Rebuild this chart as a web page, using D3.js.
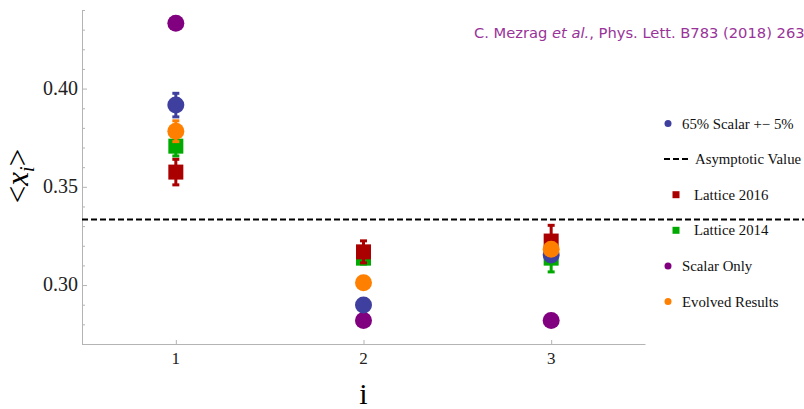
<!DOCTYPE html>
<html>
<head>
<meta charset="utf-8">
<script src="https://cdn.jsdelivr.net/npm/d3@7/dist/d3.min.js"></script>
<style>
body{margin:0;background:#fff;}
svg{display:block;}
.serif{font-family:"Liberation Serif","Times New Roman",serif;}
</style>
</head>
<body>
<div id="main"></div>
<script>
// data
var moments = [1, 2, 3];
var scalarOnly = [0.4333, 0.2820, 0.2820];
var scalar65 = [0.3916, 0.2898, 0.3153];
var scalar65Err = [0.006, 0.003, 0.003];
var evolved = [0.3783, 0.3012, 0.3182];
var evolvedErr = [0.0053, 0.003, 0.003];
var lattice2016 = [0.3575, 0.3169, 0.3224];
var lattice2016Err = [0.0065, 0.0056, 0.008];
var lattice2014 = [0.3707, 0.3137, 0.3137];
var lattice2014Err = [0.005, 0.003, 0.007];
var asymptotic = 1 / 3;
var yTicks = [0.30, 0.35, 0.40];

var width = 804, height = 409;
var x0 = 82, x1 = 645, y0 = 344, y1 = 10;
var axisCol = "#b4b4b4";

var svg = d3.select("#main").append("svg")
  .attr("width", width).attr("height", height);

var x = d3.scaleLinear().domain([0.5, 3.5]).range([x0, x1]);
var y = d3.scaleLinear().domain([0.27, 0.44]).range([y0, y1]);

// axes
var gy = svg.append("g").attr("transform", "translate(" + x0 + ",0)");
gy.call(d3.axisLeft(y).tickValues(d3.range(0.27, 0.4401, 0.01)).tickSize(0).tickFormat(""));
gy.select(".domain").attr("stroke", axisCol);
gy.selectAll(".tick").append("line")
  .attr("x1", 0)
  .attr("x2", function(d) { return yTicks.some(function(t){ return Math.abs(t - d) < 1e-6; }) ? 5 : 3; })
  .attr("stroke", axisCol);
yTicks.forEach(function(t) {
  svg.append("text").attr("class", "serif").attr("x", x0 - 4).attr("y", y(t) + 6)
    .attr("text-anchor", "end")
    .style("font-size", "20px").attr("fill", "#222")
    .text(d3.format(".2f")(t));
});

var gx = svg.append("g").attr("transform", "translate(0," + y0 + ")");
gx.call(d3.axisBottom(x).tickValues(moments).tickSize(0).tickFormat(""));
gx.select(".domain").attr("stroke", axisCol);
gx.selectAll(".tick").append("line").attr("y1", 0).attr("y2", -4).attr("stroke", axisCol);
moments.forEach(function(m) {
  svg.append("text").attr("class", "serif").attr("x", x(m)).attr("y", y0 + 20)
    .attr("text-anchor", "middle")
    .style("font-size", "17px").attr("fill", "#222")
    .text(m);
});

// axis titles
svg.append("text").attr("class", "serif").attr("x", x(2)).attr("y", 404).attr("text-anchor", "middle")
  .style("font-size", "30px").text("i");
var yl = svg.append("text").attr("class", "serif").attr("transform", "translate(28,176) rotate(-90)")
  .attr("text-anchor", "middle")
  .style("font-size", "31px");
yl.append("tspan").text("<");
yl.append("tspan").style("font-style", "italic").text("x");
yl.append("tspan").style("font-style", "italic").style("font-size", "20px").attr("dy", 6).text("i");
yl.append("tspan").attr("dy", -6).text(">");

// asymptotic line
svg.append("line").attr("x1", x0).attr("x2", width)
  .attr("y1", y(asymptotic)).attr("y2", y(asymptotic))
  .attr("stroke", "#000").attr("stroke-width", 2).attr("stroke-dasharray", "6,3");

function errBars(vals, errs, col) {
  var g = svg.append("g");
  vals.forEach(function(v, i) {
    var cx = x(moments[i]);
    g.append("line").attr("x1", cx).attr("x2", cx)
      .attr("y1", y(v + errs[i])).attr("y2", y(v - errs[i]))
      .attr("stroke", col).attr("stroke-width", 3);
    [v + errs[i], v - errs[i]].forEach(function(e) {
      g.append("line").attr("x1", cx - 3.5).attr("x2", cx + 3.5)
        .attr("y1", y(e)).attr("y2", y(e))
        .attr("stroke", col).attr("stroke-width", 3);
    });
  });
}
function squares(vals, col) {
  svg.append("g").selectAll("rect").data(vals).enter().append("rect")
    .attr("x", function(d, i) { return x(moments[i]) - 7.5; })
    .attr("y", function(d) { return y(d) - 7.5; })
    .attr("width", 15).attr("height", 15).attr("fill", col);
}
function circles(vals, col) {
  svg.append("g").selectAll("circle").data(vals).enter().append("circle")
    .attr("cx", function(d, i) { return x(moments[i]); })
    .attr("cy", function(d) { return y(d); })
    .attr("r", 8.5).attr("fill", col);
}

var cRed = "#aa0000", cGreen = "#00aa00", cBlue = "#3f3f9f", cPurple = "#800080", cOrange = "#ff8000";

errBars(lattice2014, lattice2014Err, cGreen);
squares(lattice2014, cGreen);
errBars(lattice2016, lattice2016Err, cRed);
squares(lattice2016, cRed);
circles(scalarOnly, cPurple);
errBars(scalar65, scalar65Err, cBlue);
circles(scalar65, cBlue);
errBars(evolved, evolvedErr, cOrange);
circles(evolved, cOrange);

// legend
var legendItems = [
  {name: "65% Scalar +\u2212 5%", type: "circle", col: cBlue},
  {name: "Asymptotic Value", type: "dash", col: "#000"},
  {name: "Lattice 2016", type: "square", col: cRed},
  {name: "Lattice 2014", type: "square", col: cGreen},
  {name: "Scalar Only", type: "circle", col: cPurple},
  {name: "Evolved Results", type: "circle", col: cOrange}
];
var lg = svg.append("g");
legendItems.forEach(function(it, i) {
  var ly = 123.5 + i * 35.6;
  var tx;
  if (it.type === "circle") {
    lg.append("circle").attr("cx", 668).attr("cy", ly).attr("r", 3.5).attr("fill", it.col);
    tx = 682;
  } else if (it.type === "square") {
    lg.append("rect").attr("x", 672.5).attr("y", ly - 3.5).attr("width", 7).attr("height", 7).attr("fill", it.col);
    tx = 694;
  } else {
    lg.append("line").attr("x1", 664).attr("x2", 688).attr("y1", ly).attr("y2", ly)
      .attr("stroke", "#000").attr("stroke-width", 2).attr("stroke-dasharray", "6,3");
    tx = 695;
  }
  lg.append("text").attr("class", "serif").attr("x", tx).attr("y", ly + 5)
    .style("font-size", "14.8px").attr("fill", "#111").text(it.name);
});

// citation
var cite = svg.append("text").attr("x", 474).attr("y", 38)
  .style("font-family", "'DejaVu Sans','Liberation Sans',sans-serif")
  .style("font-size", "14.7px").attr("fill", "#993399");
cite.append("tspan").text("C. Mezrag ");
cite.append("tspan").style("font-style", "italic").text("et al.");
cite.append("tspan").text(", Phys. Lett. B783 (2018) 263");
</script>
</body>
</html>
